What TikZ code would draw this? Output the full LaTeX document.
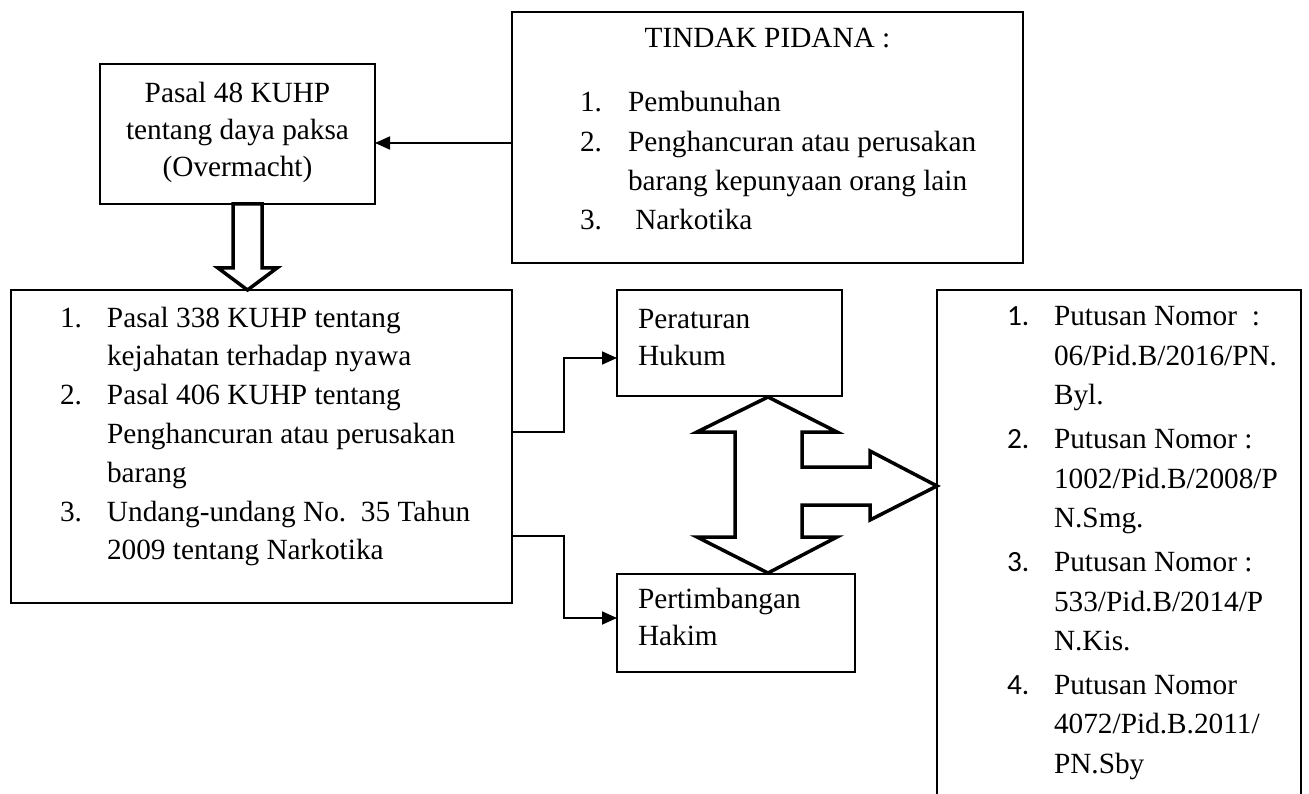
\documentclass[tikz,border=0pt]{standalone}
\usepackage{fontspec}
\setmainfont{Liberation Serif}
\newfontfamily\numfont{Carlito}
\usetikzlibrary{arrows.meta}
\begin{document}
\begin{tikzpicture}[x=1pt,y=-1pt,
  box/.style={draw=black,line width=1.8pt,rectangle,inner sep=0pt,outer sep=0pt},
  conn/.style={line width=1.8pt,-{Triangle[length=15pt,width=13pt]}},
  barrow/.style={draw=black,line width=3.5pt,fill=white,line join=miter},
  txt/.style={inner sep=0pt,outer sep=0pt,anchor=base west,align=left},
  fa/.style={font=\fontsize{29.3}{37}\selectfont},
  fb/.style={font=\fontsize{29.3}{39.3}\selectfont},
  fc/.style={font=\fontsize{29.3}{38.8}\selectfont},
]
\useasboundingbox (0,0) rectangle (1309,794);
\clip (0,0) rectangle (1309,794);
% boxes
\node[box,minimum width=511pt,minimum height=251pt] (tindak) at (767.5,137.5) {};
\node[box,minimum width=275pt,minimum height=140pt] (pasal) at (237.5,134) {};
\node[box,minimum width=501pt,minimum height=313pt] (left) at (261.5,446.5) {};
\node[box,minimum width=225pt,minimum height=106pt] (perat) at (729.5,343) {};
\node[box,minimum width=238pt,minimum height=98pt] (pert) at (736,623) {};
\node[box,minimum width=364pt,minimum height=540pt] (right) at (1119,560) {};
% connectors
\draw[conn] (tindak.west |- 0,143) -- (pasal.east |- 0,143);
\draw[conn] (left.east |- 0,432) -- ++(52,0) |- (perat.west |- 0,358);
\draw[conn] (left.east |- 0,536) -- ++(52,0) |- (pert.west |- 0,618);
% block arrows
\draw[barrow] (233,204) -- (262,204) -- (262,268) -- (277,268) -- (247.5,290) -- (218,268) -- (233,268) -- cycle;
\draw[barrow] (768,397) -- (837,432) -- (802,432) -- (802,467) -- (870,467) -- (870,451) -- (937,486) -- (870,520) -- (870,505) -- (802,505) -- (802,537) -- (837,537) -- (768,573) -- (697,537) -- (735,537) -- (735,432) -- (697,432) -- cycle;
% texts
\node[txt,fa,anchor=base] (pasaltxt) at (237.5,103) {\begin{tabular}[t]{@{}c@{}}Pasal 48 KUHP\\tentang daya paksa\\(Overmacht)\end{tabular}};
\node[txt,fb,anchor=base] (tindaktitle) at (767.5,48) {TINDAK PIDANA :};
\node[txt,fb] (tindaklist) at (580,112) {\begin{tabular}[t]{@{}p{48pt}@{}l@{}}1. & Pembunuhan\\2. & Penghancuran atau perusakan\\ & barang kepunyaan orang lain\\3. & \hspace*{7.3pt}Narkotika\end{tabular}};
\node[txt,fc] (lefttxt) at (60,327) {\begin{tabular}[t]{@{}p{47pt}@{}l@{}}1. & Pasal 338 KUHP tentang\\ & kejahatan terhadap nyawa\\2. & Pasal 406 KUHP tentang\\ & Penghancuran atau perusakan\\ & barang\\3. & Undang-undang No.\ \ 35 Tahun\\ & 2009 tentang Narkotika\end{tabular}};
\node[txt,fa] (perattxt) at (638,328) {\begin{tabular}[t]{@{}l@{}}Peraturan\\Hukum\end{tabular}};
\node[txt,fa] (perttxt) at (638,608) {\begin{tabular}[t]{@{}l@{}}Pertimbangan\\Hakim\end{tabular}};
\node[txt,fb] (righttxt) at (1007,326) {\begin{tabular}[t]{@{}p{47pt}@{}l@{}}{\numfont 1.} & Putusan Nomor\ \ :\\ & 06/Pid.B/2016/PN.\\ & Byl.\\[5pt]{\numfont 2.} & Putusan Nomor :\\ & 1002/Pid.B/2008/P\\ & N.Smg.\\[5pt]{\numfont 3.} & Putusan Nomor :\\ & 533/Pid.B/2014/P\\ & N.Kis.\\[5pt]{\numfont 4.} & Putusan Nomor\\ & 4072/Pid.B.2011/\\ & PN.Sby\end{tabular}};
\end{tikzpicture}
\end{document}
